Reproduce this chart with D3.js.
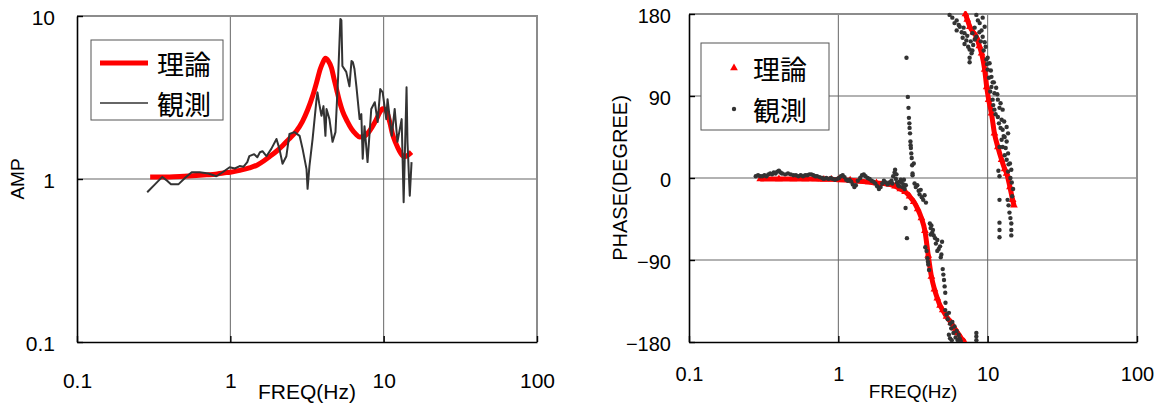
<!DOCTYPE html>
<html><head><meta charset="utf-8">
<script src="https://cdn.jsdelivr.net/npm/d3@7"></script>
<style>
body{margin:0;background:#fff}
svg{display:block}
text{font-family:"Liberation Sans",Arial,sans-serif;fill:#000}
.cjk{font-family:"Noto Sans CJK JP","Noto Sans",sans-serif}
</style>
</head><body>
<svg id="c" width="1160" height="405"></svg>
<script>
// ---------- data ----------
const freqTicks = [0.1, 1, 10, 100];
const freqTickLabels = ["0.1", "1", "10", "100"];
const ampTicks = [0.1, 1, 10];
const ampTickLabels = ["0.1", "1", "10"];
const phaseTicks = [-180, -90, 0, 90, 180];
const phaseTickLabels = ["−180", "−90", "0", "90", "180"];
const legendLabels = ["理論", "観測"];
const ampTitle = "AMP", phaseTitle = "PHASE(DEGREE)", freqTitle = "FREQ(Hz)";

// theoretical amplitude [freq, amp]
const ampTheory = [[0.3,1.03],[0.4,1.03],[0.5,1.04],[0.6,1.05],[0.7,1.06],[0.8,1.07],[0.9,1.09],[1.0,1.10],[1.15,1.13],[1.33,1.17],[1.5,1.22],[1.65,1.29],[1.8,1.37],[2.0,1.48],[2.19,1.6],[2.4,1.75],[2.7,1.97],[2.95,2.25],[3.19,2.65],[3.45,3.25],[3.65,3.9],[3.85,4.7],[4.0,5.15],[4.17,5.5],[4.35,5.3],[4.57,4.8],[4.75,4.1],[4.93,3.55],[5.15,3.0],[5.4,2.6],[5.8,2.25],[6.17,2.03],[6.6,1.88],[6.97,1.81],[7.4,1.82],[7.85,1.9],[8.4,2.08],[8.98,2.33],[9.4,2.55],[9.85,2.7],[10.2,2.68],[10.6,2.5],[11.0,2.2],[11.4,1.9],[12.0,1.66],[12.7,1.48],[13.2,1.40],[13.7,1.37],[14.4,1.40],[15.2,1.46]];

// observed amplitude [freq, amp]
const ampObserved = [[0.287,0.83],[0.32,0.92],[0.36,1.03],[0.39,0.97],[0.41,0.93],[0.46,0.93],[0.51,1.02],[0.56,1.10],[0.63,1.10],[0.72,1.08],[0.81,1.04],[0.89,1.10],[0.99,1.18],[1.07,1.16],[1.15,1.20],[1.22,1.19],[1.29,1.27],[1.33,1.38],[1.43,1.42],[1.50,1.36],[1.56,1.46],[1.62,1.48],[1.72,1.38],[1.85,1.53],[2.0,1.76],[2.09,1.53],[2.19,1.24],[2.32,1.38],[2.43,1.89],[2.62,1.94],[2.83,1.84],[2.96,1.53],[3.14,1.15],[3.19,0.87],[3.28,1.20],[3.44,1.76],[3.65,3.09],[3.7,3.4],[3.8,2.9],[3.93,2.44],[4.05,2.8],[4.17,1.84],[4.24,2.69],[4.43,2.33],[4.64,1.69],[4.85,1.94],[5.05,4.3],[5.22,9.6],[5.3,9.4],[5.38,4.94],[5.7,4.54],[5.98,3.7],[6.17,5.3],[6.3,5.2],[6.45,4.73],[6.64,3.7],[6.97,2.33],[7.15,2.5],[7.3,1.33],[7.5,2.11],[7.85,1.27],[8.3,2.69],[8.75,2.96],[9.14,2.24],[9.5,3.56],[9.85,3.4],[10.4,2.33],[10.6,3.09],[11.3,1.84],[11.8,2.69],[12.3,1.69],[13.1,2.33],[13.5,0.72],[14.1,3.66],[14.3,1.69],[14.8,0.79],[15.2,1.27]];

// theoretical phase [freq, degree], two branches
const phaseTheoryLow = [[0.3,-1],[0.4,-1],[0.5,-1],[0.6,-1],[0.7,-1],[0.8,-1.5],[0.9,-1.5],[1.0,-2],[1.2,-2.5],[1.4,-3.5],[1.6,-4.5],[1.8,-5.5],[2.0,-6],[2.2,-7],[2.4,-9],[2.6,-12],[2.8,-15],[3.0,-20],[3.2,-26],[3.4,-34],[3.6,-44],[3.8,-58],[4.0,-85],[4.2,-108],[4.4,-122],[4.6,-132],[4.8,-140],[5.0,-145],[5.3,-152],[5.7,-159],[6.0,-165],[6.3,-170],[6.6,-175],[7.0,-180]];
const phaseTheoryHigh = [[7.1,180],[7.3,174],[7.6,166],[8.0,160],[8.4,155],[8.8,145],[9.1,137],[9.55,119],[9.85,100],[10.15,86],[10.6,71],[11.1,49],[11.7,34],[12.4,20],[13.0,10],[13.4,5],[14.1,-10],[14.7,-24],[15.0,-30]];

// observed phase [freq, degree]
const phaseObserved = [[0.28,2],[0.29,3],[0.30,2],[0.31,2],[0.32,3],[0.33,2],[0.34,4],[0.35,5],[0.36,4],[0.37,6],[0.38,5],[0.39,7],[0.40,8],[0.41,6],[0.42,5],[0.44,4],[0.46,5],[0.48,4],[0.50,3],[0.52,3],[0.54,2],[0.56,3],[0.58,2],[0.60,3],[0.62,3],[0.64,4],[0.66,4],[0.68,3],[0.70,2],[0.72,2],[0.75,1],[0.78,0],[0.80,-1],[0.83,0],[0.86,-1],[0.89,0],[0.92,-1],[0.95,-2],[0.98,-1],[1.01,0],[1.04,2],[1.07,3],[1.10,1],[1.13,-2],[1.16,-3],[1.19,-2],[1.22,-4],[1.25,-7],[1.28,-10],[1.31,-8],[1.35,-3],[1.40,0],[1.44,3],[1.48,4],[1.52,2],[1.57,0],[1.62,-1],[1.67,-3],[1.72,-4],[1.77,-6],[1.82,-9],[1.87,-12],[1.92,-10],[1.97,-6],[2.02,-3],[2.08,-5],[2.14,-7],[2.20,-5],[2.27,-3],[2.33,2],[2.38,6],[2.40,9],[2.43,-1],[2.47,-5],[2.52,-8],[2.57,-4],[2.62,-2],[2.68,-10],[2.73,-7],[2.78,-12],[2.83,-8],
[2.3,-6],[2.45,4],[2.55,-9],[2.65,-5],[2.75,-2],[3.14,3],[3.2,16],[3.24,-6],[3.3,-10],[3.38,-8],[3.45,-14],[3.5,-18],[3.56,-13],[3.62,-21],[3.7,-24],[3.78,-19],[3.86,-27],[2.82,-33],[2.88,-66],
[2.86,132],[2.92,89],[2.95,77],[2.97,66],[2.99,60],[3.0,55],[3.02,49],[3.04,40],[3.05,36],[3.06,33],[3.08,27],[3.10,22],[3.12,14],[3.14,5],
[4.1,-50],[4.15,-55],[4.2,-52],[4.25,-60],[4.3,-57],[4.35,-63],[4.15,-62],[4.45,-66],[4.5,-72],[4.6,-68],[4.7,-78],[4.8,-75],[4.9,-84],[4.95,-70],[4.85,-87],[4.6,-80],[3.82,-76],[3.9,-80],[3.95,-88],[4.0,-95],[4.05,-101],[3.98,-92],[5.0,-100],[5.05,-106],[5.1,-112],[5.15,-119],[5.2,-126],[5.22,-137],
[5.2,-145],[5.3,-150],[5.4,-155],[5.5,-148],[5.6,-160],[5.7,-165],[5.8,-158],[5.9,-170],[6.0,-163],[6.1,-175],[6.2,-168],[6.3,-178],[6.4,-172],[6.5,-176],[6.6,-179],[5.5,-172],[5.6,-176],[5.75,-178],[8.4,-170],[8.4,-174],[8.4,-178],
[5.56,179],[5.8,176],[6.2,173],[6.5,166],[6.2,162],[6.7,160],[7.0,159],[6.8,154],[7.2,151],[7.0,147],[7.4,144],[7.57,141],[7.8,137],[7.57,132],[7.57,127],[7.9,140],[8.4,179],[8.6,173],[8.84,170],[9.26,176],[9.55,166],[9.1,162],[9.26,155],[9.55,149],[9.7,144],[8.18,165],[7.9,159],[8.4,155],
[6.0,170],[6.4,168],[6.9,165],[7.3,156],[7.7,150],[8.0,146],[8.2,152],[8.8,160],[9.0,150],[9.4,140],[9.8,130],[9.9,125],[10.2,110],[10.4,95],[10.9,80],[11.3,70],[11.9,60],[12.2,55],[12.8,46],[13.2,33],[13.0,25],[13.8,15],[14.2,0],[14.5,-5],[10.5,118],[11.0,105],[11.6,92],[12.2,82],[12.9,62],
[10.0,132],[10.3,126],[10.0,119],[10.6,111],[10.8,105],[10.6,100],[11.4,99],[11.1,93],[11.7,86],[10.8,86],[11.1,75],[12.0,77],[12.6,75],[11.7,67],[12.4,64],[13.4,56],[12.6,53],[13.7,49],[13.0,45],[13.4,40],[12.4,42],[12.6,34],[12.0,34],[13.7,27],[13.4,20],[14.1,16],[14.4,9],[13.7,7],[11.8,8],[12.0,2],
[13.6,-24],[13.8,-30],[14.0,-38],[14.2,-44],[14.4,-50],[14.4,-57],[14.4,-63],[12.0,-24],[12.0,-49],[12.0,-57],[12.0,-65],[14.6,-20],[14.8,-12]];

// ---------- drawing ----------
const svg = d3.select("#c");
const RED = "#ff0000", DARK = "#333333", GRID = "#666666", FRAME = "#8c8c8c";

function panel(cfg) {
  const g = svg.append("g");
  const x = cfg.x, y = cfg.y;
  const [x0, x1] = x.range(), [y1, y0] = y.range();
  g.selectAll(".vg").data(freqTicks.slice(1, -1)).join("line")
    .attr("x1", d => x(d)).attr("x2", d => x(d)).attr("y1", y0).attr("y2", y1)
    .attr("stroke", GRID).attr("stroke-width", 1);
  g.selectAll(".hg").data(cfg.yTicks.slice(1, -1)).join("line")
    .attr("x1", x0).attr("x2", x1).attr("y1", d => y(d)).attr("y2", d => y(d))
    .attr("stroke", GRID).attr("stroke-width", 1.2);
  g.append("path").attr("d", `M${x0},${y0}H${x1}V${y1}`).attr("fill", "none")
    .attr("stroke", FRAME).attr("stroke-width", 2);
  const ax = d3.axisBottom(x).tickValues(freqTicks).tickFormat((d, i) => freqTickLabels[i])
    .tickSizeInner(-6).tickSizeOuter(0).tickPadding(cfg.xPad);
  const gx = g.append("g").attr("transform", `translate(0,${y1})`).call(ax);
  const ay = d3.axisLeft(y).tickValues(cfg.yTicks).tickFormat((d, i) => cfg.yLabels[i])
    .tickSizeInner(-6).tickSizeOuter(0).tickPadding(cfg.yPad);
  const gy = g.append("g").attr("transform", `translate(${x0},0)`).call(ay);
  [gx, gy].forEach(a => {
    a.select(".domain").attr("stroke", "#000").attr("stroke-width", 1.6);
    a.selectAll(".tick line").attr("stroke", "#000").attr("stroke-width", 1.4);
    a.selectAll(".tick text").attr("fill", "#000").style("font-size", cfg.tickFont + "px")
      .style("font-family", '"Liberation Sans", Arial, sans-serif');
  });
  gy.selectAll(".tick text").attr("dy", "0.42em");
  const cid = "clip" + cfg.id;
  svg.append("clipPath").attr("id", cid).append("rect")
    .attr("x", x0).attr("y", y0 - 3).attr("width", x1 - x0).attr("height", y1 - y0 + 3);
  const plot = g.append("g").attr("clip-path", `url(#${cid})`);
  g.append("text").attr("x", (x0 + x1) / 2).attr("y", cfg.xTitleY).attr("text-anchor", "middle")
    .style("font-size", cfg.xTitleFont + "px").text(freqTitle);
  g.append("text").attr("transform", `translate(${cfg.yTitleX},${(y0 + y1) / 2}) rotate(-90)`)
    .attr("text-anchor", "middle").attr("dominant-baseline", "central")
    .style("font-size", cfg.yTitleFont + "px").text(cfg.yTitle);
  return {g, plot};
}

// ---- Amplitude panel ----
const xA = d3.scaleLog().domain([0.1, 100]).range([77, 537]);
const yA = d3.scaleLog().domain([0.1, 10]).range([342, 16]);
const pA = panel({id: "a", x: xA, y: yA, yTicks: ampTicks, yLabels: ampTickLabels, xPad: 31, yPad: 22,
  tickFont: 21, xTitleFont: 21, yTitleFont: 19, xTitleY: 399, yTitleX: 17, yTitle: ampTitle});
pA.plot.append("path").datum(ampTheory)
  .attr("d", d3.line().x(d => xA(d[0])).y(d => yA(d[1])).curve(d3.curveMonotoneX))
  .attr("fill", "none").attr("stroke", RED).attr("stroke-width", 5).attr("stroke-linejoin", "round");
pA.plot.append("path").datum(ampObserved).attr("d", d3.line().x(d => xA(d[0])).y(d => yA(d[1])))
  .attr("fill", "none").attr("stroke", DARK).attr("stroke-width", 2).attr("stroke-linejoin", "round");
const lgA = pA.g.append("g");
lgA.append("rect").attr("x", 91).attr("y", 40).attr("width", 132).attr("height", 80)
  .attr("fill", "#fff").attr("stroke", "#555").attr("stroke-width", 1);
lgA.append("line").attr("x1", 100).attr("x2", 148).attr("y1", 63).attr("y2", 63).attr("stroke", RED).attr("stroke-width", 5);
lgA.append("line").attr("x1", 100).attr("x2", 148).attr("y1", 103).attr("y2", 103).attr("stroke", DARK).attr("stroke-width", 1.6);
legendLabels.forEach((t, i) => lgA.append("text").attr("class", "cjk").attr("x", 157).attr("y", 63 + i * 40)
  .attr("dominant-baseline", "central").style("font-size", "27px").text(t));

// ---- Phase panel ----
const xP = d3.scaleLog().domain([0.1, 100]).range([689, 1137]);
const yP = d3.scaleLinear().domain([-180, 180]).range([342, 14]);
const pP = panel({id: "p", x: xP, y: yP, yTicks: phaseTicks, yLabels: phaseTickLabels, xPad: 25, yPad: 18,
  tickFont: 20, xTitleFont: 19, yTitleFont: 20, xTitleY: 398, yTitleX: 620, yTitle: phaseTitle});
const lineP = d3.line().x(d => xP(d[0])).y(d => yP(d[1])).curve(d3.curveMonotoneX);
[phaseTheoryLow, phaseTheoryHigh].forEach(br => {
  pP.plot.append("path").datum(br).attr("d", lineP).attr("fill", "none")
    .attr("stroke", RED).attr("stroke-width", 5).attr("stroke-linejoin", "round");
  pP.plot.selectAll(null).data(br).join("path")
    .attr("transform", d => `translate(${xP(d[0])},${yP(d[1])})`)
    .attr("d", d3.symbol(d3.symbolTriangle, 26)).attr("fill", RED);
});
pP.plot.selectAll(".obs").data(phaseObserved).join("circle")
  .attr("cx", d => xP(d[0])).attr("cy", d => yP(d[1])).attr("r", 2.2).attr("fill", DARK);
const lgP = pP.g.append("g");
lgP.append("rect").attr("x", 701).attr("y", 43).attr("width", 128).attr("height", 87)
  .attr("fill", "#fff").attr("stroke", "#555").attr("stroke-width", 1);
lgP.append("path").attr("transform", "translate(734,68)").attr("d", d3.symbol(d3.symbolTriangle, 26)).attr("fill", RED);
lgP.append("circle").attr("cx", 734).attr("cy", 109).attr("r", 2.2).attr("fill", DARK);
legendLabels.forEach((t, i) => lgP.append("text").attr("class", "cjk").attr("x", 753).attr("y", 68 + i * 41)
  .attr("dominant-baseline", "central").style("font-size", "27px").text(t));
</script>
</body></html>
